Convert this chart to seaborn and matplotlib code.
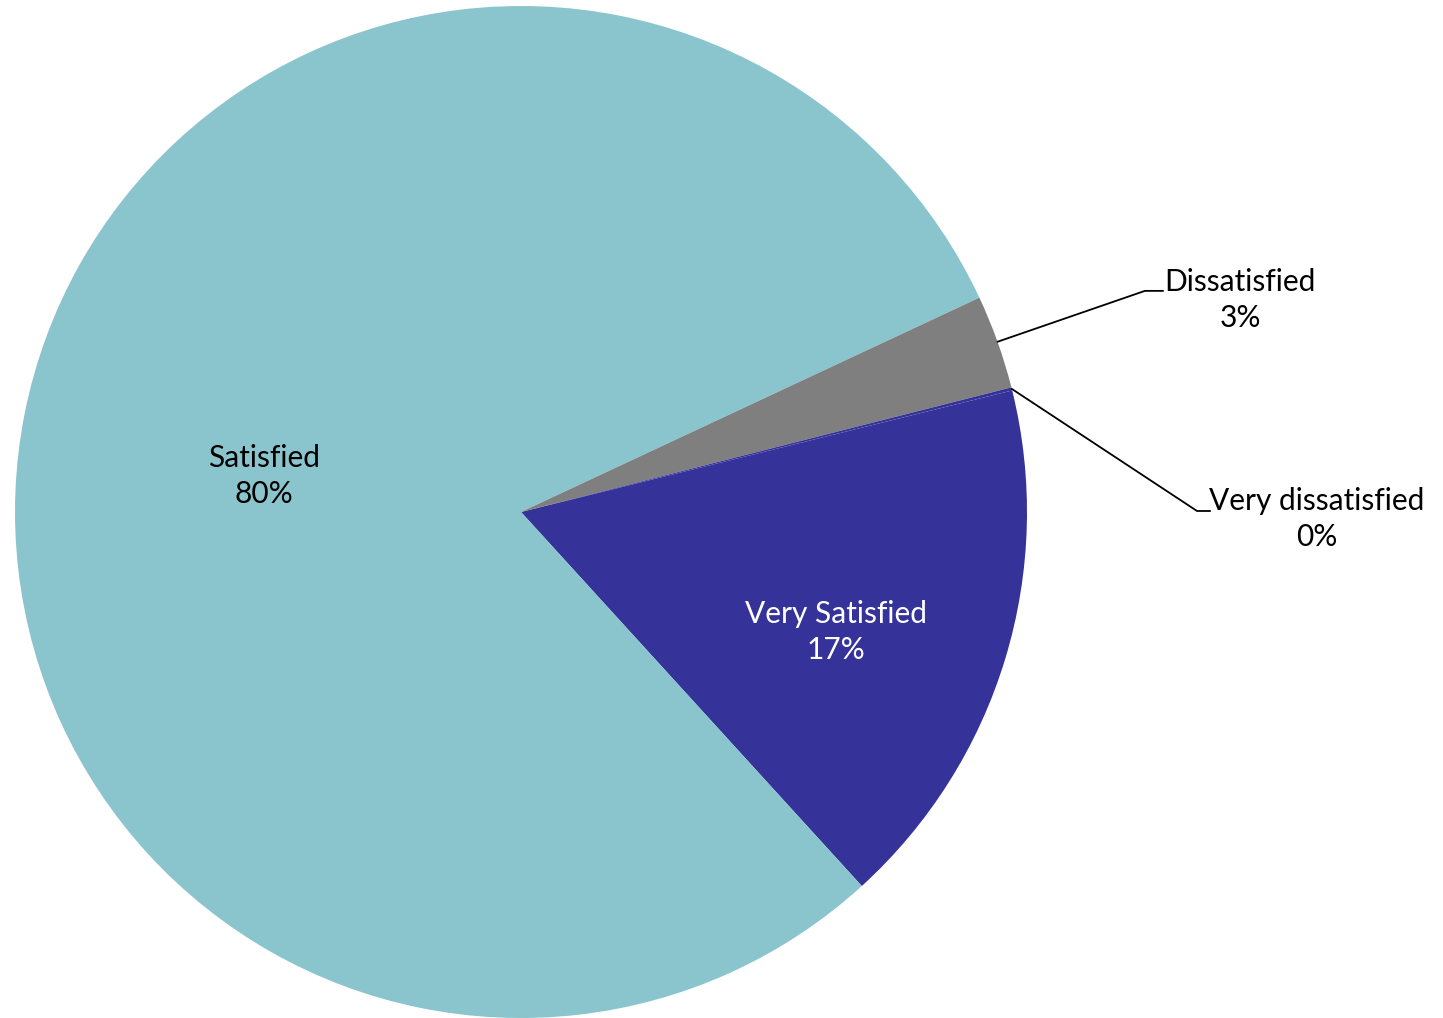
import numpy as np
import matplotlib
matplotlib.use("Agg")
import matplotlib.pyplot as plt
import seaborn as sns

# data
labels = ['Very Satisfied', 'Satisfied', 'Dissatisfied', 'Very dissatisfied']
shares = [17.1, 79.8, 3.0, 0.1]
colors = ['#353399', '#8AC5CD', '#7F7F7F', '#353399']

sns.set_theme(style='white')
plt.rcParams['font.family'] = ['Lato', 'DejaVu Sans']

fig = plt.figure(figsize=(14.43, 10.18), dpi=100)
ax = fig.add_axes([0, 0, 1, 1])

wedges, _ = ax.pie(shares, colors=colors, startangle=13.9, counterclock=False,
                   radius=1.0, wedgeprops={'linewidth': 0})

ax.set_xlim(-521 / 506, (1443 - 521) / 506)
ax.set_ylim(-(1018 - 512) / 506, 512 / 506)
ax.set_aspect('equal')
ax.axis('off')

pct = [round(s) for s in shares]
fs = 21.5

# labels inside the big slices
inside = {0: (0.622, -0.238, 'white'), 1: (-0.508, 0.071, 'black')}
for i, (x, y, c) in inside.items():
    ax.text(x, y, f'{labels[i]}\n{pct[i]}%', ha='center', va='center',
            color=c, fontsize=fs, linespacing=1.35)

# outside labels with leader lines
outside = {2: ((1.233, 0.437), (1.269, 0.437), (1.421, 0.419)),
           3: ((1.336, 0.002), (1.362, 0.002), (1.573, -0.014))}
for i, (elbow, end, txt) in outside.items():
    w = wedges[i]
    mid = np.deg2rad((w.theta1 + w.theta2) / 2)
    x0, y0 = np.cos(mid), np.sin(mid)
    ax.plot([x0, elbow[0], end[0]], [y0, elbow[1], end[1]], color='black', lw=1.3)
    ax.text(txt[0], txt[1], f'{labels[i]}\n{pct[i]}%', ha='center', va='center',
            color='black', fontsize=fs, linespacing=1.35)

fig.savefig('out.png', dpi=100, facecolor='white')
